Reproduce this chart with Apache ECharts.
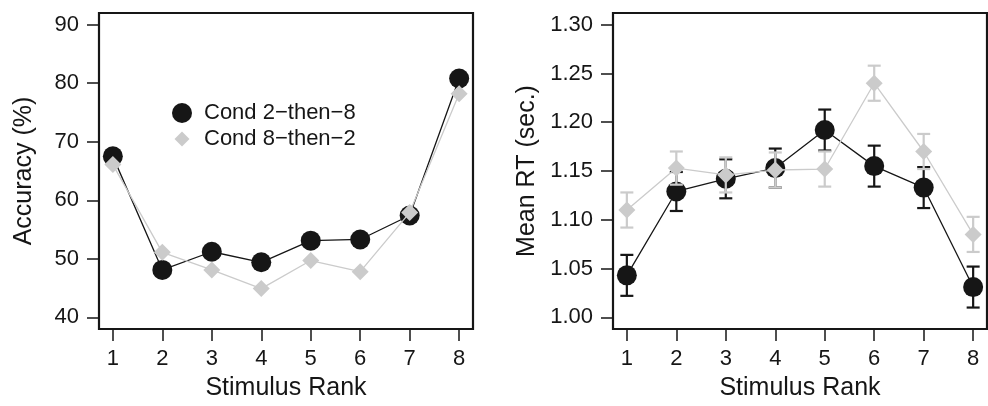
<!DOCTYPE html>
<html>
<head>
<meta charset="utf-8">
<script src="https://cdn.jsdelivr.net/npm/echarts@6/dist/echarts.min.js"></script>
<style>html,body{margin:0;padding:0;background:#fff}#c{width:988px;height:406px}</style>
</head>
<body>
<div id="c"></div>
<script>
const ranks = [1, 2, 3, 4, 5, 6, 7, 8];
const acc28 = [67.5, 48.1, 51.2, 49.4, 53.1, 53.3, 57.4, 80.8];
const acc82 = [66.1, 51.1, 48.1, 44.9, 49.7, 47.8, 57.9, 78.2];
const rt28 = [1.043, 1.129, 1.142, 1.153, 1.192, 1.155, 1.133, 1.031];
const rt28err = [0.021, 0.020, 0.020, 0.020, 0.021, 0.021, 0.021, 0.021];
const rt82 = [1.110, 1.153, 1.146, 1.151, 1.152, 1.240, 1.170, 1.085];
const rt82err = [0.018, 0.017, 0.018, 0.018, 0.018, 0.018, 0.018, 0.018];
const xTicks = [1, 2, 3, 4, 5, 6, 7, 8];
const accTicks = [40, 50, 60, 70, 80, 90];
const rtTicks = [1.00, 1.05, 1.10, 1.15, 1.20, 1.25, 1.30];
const name28 = 'Cond 2\u2212then\u22128';
const name82 = 'Cond 8\u2212then\u22122';

const FONT = '"Liberation Sans", Arial, Helvetica, sans-serif';
const INK = '#161616';
const GREY = '#cbcbcb';

const chart = echarts.init(document.getElementById('c'), null, {renderer: 'canvas'});

function xAxis(gi) {
  return {
    type: 'value', gridIndex: gi, min: 0.72, max: 8.28,
    name: 'Stimulus Rank', nameLocation: 'middle', nameGap: 47,
    nameTextStyle: {fontFamily: FONT, fontSize: 25, color: INK},
    axisLine: {show: false},
    axisTick: {show: true, length: 12, inside: false, customValues: xTicks, lineStyle: {color: INK, width: 1.5}},
    axisLabel: {customValues: xTicks, margin: 19, fontFamily: FONT, fontSize: 22, color: INK},
    splitLine: {show: false}
  };
}
function yAxis(gi, mn, mx, ticks, name, gap, fmt) {
  return {
    type: 'value', gridIndex: gi, min: mn, max: mx,
    name: name, nameLocation: 'middle', nameGap: gap,
    nameTextStyle: {fontFamily: FONT, fontSize: 25, color: INK},
    axisLine: {show: false},
    axisTick: {show: true, length: 12, customValues: ticks, lineStyle: {color: INK, width: 1.5}},
    axisLabel: {customValues: ticks, margin: 20, fontFamily: FONT, fontSize: 22, color: INK, formatter: fmt},
    splitLine: {show: false}
  };
}
function errSeries(name, xi, yi, vals, errs, color, z) {
  return {
    type: 'custom', name: name, xAxisIndex: xi, yAxisIndex: yi, z: z, silent: true,
    data: ranks.map((r, i) => [r, vals[i] - errs[i], vals[i] + errs[i]]),
    encode: {x: 0, y: [1, 2]},
    renderItem: function (params, api) {
      const lo = api.coord([api.value(0), api.value(1)]);
      const hi = api.coord([api.value(0), api.value(2)]);
      const w = 6.5;
      const st = {stroke: color, lineWidth: 2.2};
      return {type: 'group', children: [
        {type: 'line', shape: {x1: lo[0], y1: lo[1], x2: hi[0], y2: hi[1]}, style: st},
        {type: 'line', shape: {x1: lo[0] - w, y1: lo[1], x2: lo[0] + w, y2: lo[1]}, style: st},
        {type: 'line', shape: {x1: hi[0] - w, y1: hi[1], x2: hi[0] + w, y2: hi[1]}, style: st}
      ]};
    }
  };
}
function lineSeries(name, xi, yi, vals, color, symbol, size, z) {
  return {
    type: 'line', name: name, xAxisIndex: xi, yAxisIndex: yi, z: z,
    data: ranks.map((r, i) => [r, vals[i]]),
    symbol: symbol, symbolSize: size, showSymbol: true,
    lineStyle: {color: color, width: 1.3},
    itemStyle: {color: color, borderWidth: 0},
    emphasis: {disabled: true}, animation: false
  };
}

const diamondPath = 'path://M0,0M20,20M10,2.5L17.5,10L10,17.5L2.5,10Z';

chart.setOption({
  animation: false,
  grid: [
    {left: 99, top: 13, width: 374, height: 319, show: true, borderColor: INK, borderWidth: 2.2, backgroundColor: 'transparent'},
    {left: 613, top: 13, width: 374, height: 319, show: true, borderColor: INK, borderWidth: 2.2, backgroundColor: 'transparent'}
  ],
  xAxis: [xAxis(0), xAxis(1)],
  yAxis: [
    yAxis(0, 38, 92, accTicks, 'Accuracy (%)', 62, v => String(v)),
    yAxis(1, 0.988, 1.312, rtTicks, 'Mean RT (sec.)', 73, v => v.toFixed(2))
  ],
  legend: {
    show: true, orient: 'vertical', left: 167, top: 97, itemWidth: 20, itemHeight: 20, itemGap: 4,
    selectedMode: false,
    textStyle: {fontFamily: FONT, fontSize: 22, color: INK, padding: [0, 0, 0, 7]},
    data: [{name: name28, icon: 'circle'}, {name: name82, icon: diamondPath}]
  },
  series: [
    lineSeries(name28, 0, 0, acc28, INK, 'circle', 20, 2),
    lineSeries(name82, 0, 0, acc82, GREY, 'diamond', 17, 4),
    errSeries('e28', 1, 1, rt28, rt28err, INK, 1),
    lineSeries(name28, 1, 1, rt28, INK, 'circle', 20, 2),
    errSeries('e82', 1, 1, rt82, rt82err, GREY, 3),
    lineSeries(name82, 1, 1, rt82, GREY, 'diamond', 17, 4)
  ]
});
</script>
</body>
</html>
